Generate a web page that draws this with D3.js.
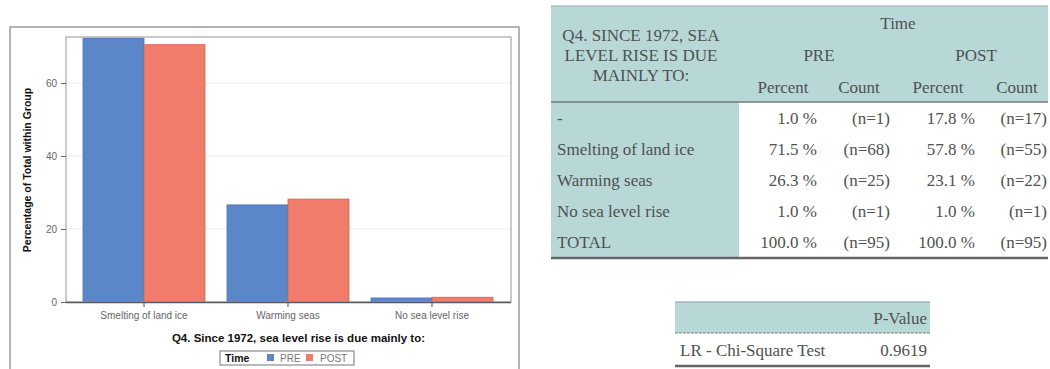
<!DOCTYPE html>
<html>
<head>
<meta charset="utf-8">
<script src="https://cdn.jsdelivr.net/npm/d3@7"></script>
<style>
  html, body { margin: 0; padding: 0; background: #fff; }
  svg { display: block; }
</style>
</head>
<body>
<svg id="root" width="1050" height="369"></svg>
<script>
// Survey responses: share of each answer within the PRE and POST groups
const categories = ["Smelting of land ice", "Warming seas", "No sea level rise"];
const groups = ["PRE", "POST"];
const preValues = [72.3, 26.6, 1.1];
const postValues = [70.5, 28.2, 1.3];
const yTicks = [0, 20, 40, 60];

// Cross-tabulation shown beside the chart
const rowLabels = ["-", "Smelting of land ice", "Warming seas", "No sea level rise", "TOTAL"];
const prePercent = ["1.0 %", "71.5 %", "26.3 %", "1.0 %", "100.0 %"];
const preCount = ["(n=1)", "(n=68)", "(n=25)", "(n=1)", "(n=95)"];
const postPercent = ["17.8 %", "57.8 %", "23.1 %", "1.0 %", "100.0 %"];
const postCount = ["(n=17)", "(n=55)", "(n=22)", "(n=1)", "(n=95)"];
const headerLines = ["Q4. SINCE 1972, SEA", "LEVEL RISE IS DUE", "MAINLY TO:"];
const testName = "LR - Chi-Square Test";
const pValue = "0.9619";

const colors = { PRE: "#5b87c9", POST: "#f27c6b" };
const strokeColors = { PRE: "#4a6fae", POST: "#d9604f" };

const svg = d3.select("#root");
const sans = "'Liberation Sans', Arial, sans-serif";
const serif = "'Liberation Serif', 'Times New Roman', serif";

// ---------- bar chart ----------
const frame = { left: 66, right: 511, top: 37, bottom: 302 };

// outer panel border
svg.append("rect")
  .attr("x", 10).attr("y", 27).attr("width", 509).attr("height", 360)
  .attr("fill", "none").attr("stroke", "#9a9a9a").attr("stroke-width", 1.5);

const y = d3.scaleLinear().domain([0, 72.6]).range([frame.bottom, frame.top]);
const x = d3.scaleBand().domain(categories)
  .range([frame.left + 6, frame.right - 7])
  .paddingInner(0.153).paddingOuter(0.0765);
const xg = d3.scaleBand().domain(groups).range([0, x.bandwidth()]);

const chart = svg.append("g");

// gridlines
chart.append("g").selectAll("line")
  .data(yTicks.filter(t => t > 0))
  .join("line")
  .attr("x1", frame.left).attr("x2", frame.right)
  .attr("y1", d => y(d)).attr("y2", d => y(d))
  .attr("stroke", "#ececec").attr("stroke-width", 1);

// bars
const series = groups.map(g => ({ key: g, values: g === "PRE" ? preValues : postValues }));
const barData = [];
categories.forEach((c, i) => {
  series.forEach(s => barData.push({ cat: c, grp: s.key, v: s.values[i] }));
});
chart.append("g").selectAll("rect")
  .data(barData)
  .join("rect")
  .attr("x", d => x(d.cat) + xg(d.grp))
  .attr("y", d => y(d.v))
  .attr("width", xg.bandwidth())
  .attr("height", d => y(0) - y(d.v))
  .attr("fill", d => colors[d.grp])
  .attr("stroke", d => strokeColors[d.grp])
  .attr("stroke-width", 0.8);

// plot frame
chart.append("rect")
  .attr("x", frame.left).attr("y", frame.top)
  .attr("width", frame.right - frame.left).attr("height", frame.bottom - frame.top)
  .attr("fill", "none").attr("stroke", "#a8a8a8").attr("stroke-width", 1.2);

// baseline
chart.append("line")
  .attr("x1", frame.left).attr("x2", frame.right)
  .attr("y1", y(0) + 0.5).attr("y2", y(0) + 0.5)
  .attr("stroke", "#555a66").attr("stroke-width", 1.4);

// y axis
const yAxis = chart.append("g")
  .attr("transform", `translate(${frame.left},0)`)
  .call(d3.axisLeft(y).tickValues(yTicks).tickSize(5).tickPadding(4));
yAxis.select(".domain").remove();
yAxis.selectAll("line").attr("stroke", "#666");
yAxis.selectAll("text").attr("font-family", sans).attr("font-size", 10).attr("fill", "#666");

// x axis
const xAxis = chart.append("g")
  .attr("transform", `translate(0,${frame.bottom})`)
  .call(d3.axisBottom(x).tickSize(5).tickPadding(5));
xAxis.select(".domain").remove();
xAxis.selectAll("line").attr("stroke", "#555");
xAxis.selectAll("text").attr("font-family", sans).attr("font-size", 10).attr("fill", "#666");

// axis titles
chart.append("text")
  .attr("x", (frame.left + frame.right) / 2 + 10).attr("y", 342)
  .attr("text-anchor", "middle")
  .attr("font-family", sans).attr("font-size", 11.5).attr("font-weight", "bold")
  .attr("fill", "#111")
  .text("Q4. Since 1972, sea level rise is due mainly to:");

chart.append("text")
  .attr("transform", "translate(31,170) rotate(-90)")
  .attr("text-anchor", "middle")
  .attr("font-family", sans).attr("font-size", 10.5).attr("font-weight", "bold")
  .attr("fill", "#111")
  .text("Percentage of Total within Group");

// legend
const legend = chart.append("g");
legend.append("rect")
  .attr("x", 220).attr("y", 351).attr("width", 134).attr("height", 14)
  .attr("fill", "#fff").attr("stroke", "#777").attr("stroke-width", 1);
legend.append("text")
  .attr("x", 225).attr("y", 362)
  .attr("font-family", sans).attr("font-size", 10.5).attr("font-weight", "bold")
  .attr("fill", "#111").text("Time");
const legendItems = [{ key: "PRE", sx: 267, tx: 280 }, { key: "POST", sx: 306, tx: 320 }];
legendItems.forEach(it => {
  legend.append("rect")
    .attr("x", it.sx).attr("y", 354).attr("width", 7).attr("height", 7)
    .attr("fill", colors[it.key]);
  legend.append("text")
    .attr("x", it.tx).attr("y", 362)
    .attr("font-family", sans).attr("font-size", 10)
    .attr("fill", "#777").text(it.key);
});

// ---------- cross-tab table ----------
const tbl = svg.append("g").attr("font-family", serif).attr("font-size", 17).attr("fill", "#505050");
const teal = "#b8d8d8";
const T = { left: 551, right: 1048, top: 6, headBottom: 102, labelRight: 739, bottom: 258 };

tbl.append("rect")
  .attr("x", T.left).attr("y", T.top).attr("width", T.right - T.left).attr("height", T.headBottom - T.top)
  .attr("fill", teal);
tbl.append("rect")
  .attr("x", T.left).attr("y", T.headBottom).attr("width", T.labelRight - T.left).attr("height", T.bottom - T.headBottom)
  .attr("fill", teal);
tbl.append("line")
  .attr("x1", T.left).attr("x2", T.right).attr("y1", T.top).attr("y2", T.top)
  .attr("stroke", "#9aa").attr("stroke-width", 1);
tbl.append("line")
  .attr("x1", T.left).attr("x2", T.right).attr("y1", T.headBottom).attr("y2", T.headBottom)
  .attr("stroke", "#6f7a7a").attr("stroke-width", 1.5);
tbl.append("line")
  .attr("x1", T.left).attr("x2", T.right).attr("y1", T.bottom).attr("y2", T.bottom)
  .attr("stroke", "#666").attr("stroke-width", 2.5);

headerLines.forEach((l, i) => {
  tbl.append("text").attr("x", 641).attr("y", 41 + i * 20)
    .attr("text-anchor", "middle").text(l);
});
tbl.append("text").attr("x", 898).attr("y", 29).attr("text-anchor", "middle").text("Time");
tbl.append("text").attr("x", 819).attr("y", 61).attr("text-anchor", "middle").text("PRE");
tbl.append("text").attr("x", 976).attr("y", 61).attr("text-anchor", "middle").text("POST");
[["Percent", 783], ["Count", 859], ["Percent", 938], ["Count", 1017]].forEach(([t, cx]) => {
  tbl.append("text").attr("x", cx).attr("y", 93).attr("text-anchor", "middle").text(t);
});

const cols = [
  { vals: prePercent, right: 817 },
  { vals: preCount, right: 890 },
  { vals: postPercent, right: 975 },
  { vals: postCount, right: 1047 }
];
rowLabels.forEach((lab, i) => {
  const by = 124 + i * 31;
  tbl.append("text").attr("x", 557).attr("y", by).text(lab);
  cols.forEach(c => {
    tbl.append("text").attr("x", c.right).attr("y", by).attr("text-anchor", "end").text(c.vals[i]);
  });
});

// ---------- test statistic table ----------
const P = { left: 675, right: 930, top: 302, headBottom: 333, bottom: 366 };
const ptbl = svg.append("g").attr("font-family", serif).attr("font-size", 17).attr("fill", "#505050");
ptbl.append("rect")
  .attr("x", P.left).attr("y", P.top).attr("width", P.right - P.left).attr("height", P.headBottom - P.top)
  .attr("fill", teal);
ptbl.append("line")
  .attr("x1", P.left).attr("x2", P.right).attr("y1", P.top).attr("y2", P.top)
  .attr("stroke", "#8a9a9a").attr("stroke-width", 1.2);
ptbl.append("line")
  .attr("x1", P.left).attr("x2", P.right).attr("y1", P.headBottom).attr("y2", P.headBottom)
  .attr("stroke", "#7a8585").attr("stroke-width", 1.2).attr("stroke-dasharray", "3,1");
ptbl.append("line")
  .attr("x1", P.left).attr("x2", P.right).attr("y1", P.bottom).attr("y2", P.bottom)
  .attr("stroke", "#666").attr("stroke-width", 2.5);
ptbl.append("text").attr("x", 927).attr("y", 324).attr("text-anchor", "end").text("P-Value");
ptbl.append("text").attr("x", 680).attr("y", 356).text(testName);
ptbl.append("text").attr("x", 927).attr("y", 356).attr("text-anchor", "end").text(pValue);
</script>
</body>
</html>
